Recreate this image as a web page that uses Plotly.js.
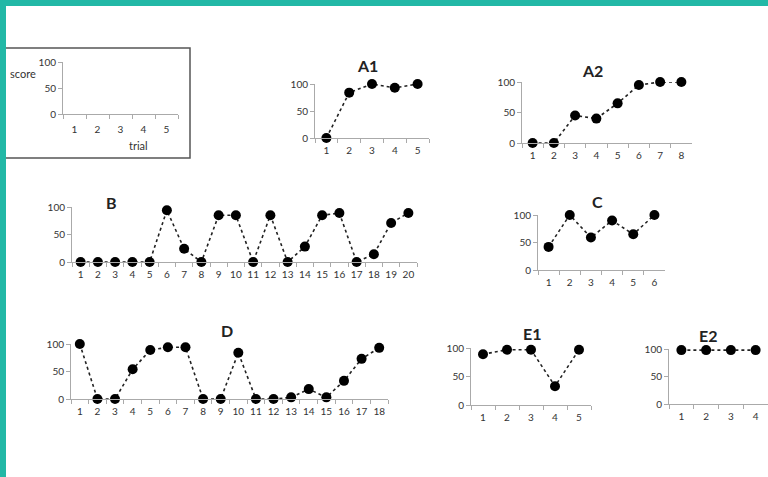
<!DOCTYPE html>
<html>
<head>
<meta charset="utf-8">
<script src="https://cdn.plot.ly/plotly-3.0.1.min.js"></script>
<style>html,body{margin:0;padding:0;background:#fff;}</style>
</head>
<body>
<div id="chart" style="width:768px;height:477px;"></div>
<script>
// scores per trial
var keyTrials = ['1', '2', '3', '4', '5'];
var a1Scores = [0, 84, 100, 93, 100];
var a2Scores = [0, 0, 45, 40, 65, 95, 100, 100];
var bScores = [0, 0, 0, 0, 0, 94, 24, 0, 85, 85, 0, 85, 0, 28, 85, 89, 0, 14, 71, 89];
var cScores = [42, 100, 59, 90, 65, 100];
var dScores = [100, 0, 0, 54, 89, 94, 94, 0, 0, 84, 0, 0, 3, 18, 3, 33, 73, 93];
var e1Scores = [89, 97, 97, 33, 97];
var e2Scores = [98, 98, 98, 98];
var yTicks = [0, 50, 100];

var W = 768, H = 477;
function fx(x) { return x / W; }
function fy(y) { return 1 - y / H; }
function trials(n) {
  var t = [];
  for (var i = 1; i <= n; i++) t.push(String(i));
  return t;
}

// pixel boxes [left, right, top, bottom] and title centres
var panels = [
  {name: '', scores: null, box: [63, 178, 62, 114]},
  {name: 'A1', scores: a1Scores, box: [315, 429, 84, 138], title: [367, 65]},
  {name: 'A2', scores: a2Scores, box: [522, 692, 82, 143], title: [592, 70]},
  {name: 'B', scores: bScores, box: [72, 417, 207, 262], title: [111, 202]},
  {name: 'C', scores: cScores, box: [538, 665, 215, 270], title: [597, 201]},
  {name: 'D', scores: dScores, box: [71, 388, 344, 399], title: [227, 330]},
  {name: 'E1', scores: e1Scores, box: [471, 591, 348, 405], title: [532, 333]},
  {name: 'E2', scores: e2Scores, box: [669, 768, 349, 404], title: [708, 335]}
];

var tickFont = {family: 'Lato, Open Sans, sans-serif', size: 10, color: '#333'};
var data = [];
var layout = {
  width: W, height: H,
  margin: {l: 0, r: 0, t: 0, b: 0},
  paper_bgcolor: '#fff', plot_bgcolor: '#fff',
  showlegend: false,
  annotations: [],
  shapes: []
};

panels.forEach(function (p, i) {
  var k = i === 0 ? '' : String(i + 1);
  var xs = p.scores ? trials(p.scores.length) : keyTrials;
  var ys = p.scores ? p.scores : xs.map(function () { return null; });
  data.push({
    x: xs, y: ys,
    xaxis: 'x' + k, yaxis: 'y' + k,
    type: 'scatter', mode: 'lines+markers',
    line: {color: '#222', width: 1.6, dash: 'dot'},
    marker: {color: '#000', size: 10},
    cliponaxis: false,
    hoverinfo: 'skip'
  });
  layout['xaxis' + k] = {
    type: 'category',
    domain: [fx(p.box[0]), fx(p.box[1])],
    anchor: 'y' + k,
    range: [-0.5, xs.length - 0.5],
    tickson: 'boundaries',
    tickangle: 0,
    ticklabelstandoff: i === 0 ? 6 : 3,
    ticks: 'outside', ticklen: 4, tickcolor: '#aaa',
    showline: true, linecolor: '#aaa', linewidth: 1,
    showgrid: false, zeroline: false,
    tickfont: tickFont, fixedrange: true
  };
  layout['yaxis' + k] = {
    domain: [fy(p.box[3]), fy(p.box[2])],
    anchor: 'x' + k,
    range: [0, 100],
    tickvals: yTicks,
    ticks: 'outside', ticklen: 4, tickcolor: '#aaa',
    showline: true, linecolor: '#aaa', linewidth: 1,
    showgrid: false, zeroline: false,
    tickfont: tickFont, fixedrange: true
  };
  if (p.title) {
    layout.annotations.push({
      text: '<b>' + p.name + '</b>',
      xref: 'paper', yref: 'paper',
      x: fx(p.title[0]), y: fy(p.title[1]),
      xanchor: 'center', yanchor: 'middle',
      showarrow: false,
      font: {family: 'Lato, Open Sans, sans-serif', size: 16, color: '#222'}
    });
  }
});

// key panel labels
layout.annotations.push({
  text: 'score', xref: 'paper', yref: 'paper',
  x: fx(23), y: fy(73), xanchor: 'center', yanchor: 'middle',
  showarrow: false, font: {family: 'Lato, sans-serif', size: 11, color: '#333'}
});
layout.annotations.push({
  text: 'trial', xref: 'paper', yref: 'paper',
  x: fx(138), y: fy(145), xanchor: 'center', yanchor: 'middle',
  showarrow: false, font: {family: 'Lato, sans-serif', size: 11, color: '#333'}
});

// key box and teal page frame
layout.shapes.push({
  type: 'rect', xref: 'paper', yref: 'paper',
  x0: fx(5), x1: fx(190), y0: fy(158), y1: fy(48),
  line: {color: '#555', width: 1.5}, fillcolor: 'rgba(0,0,0,0)'
});
layout.shapes.push({
  type: 'rect', xref: 'paper', yref: 'paper', layer: 'above',
  x0: 0, x1: 1, y0: fy(6), y1: 1,
  line: {width: 0}, fillcolor: '#22b8a6'
});
layout.shapes.push({
  type: 'rect', xref: 'paper', yref: 'paper', layer: 'above',
  x0: 0, x1: fx(6), y0: 0, y1: 1,
  line: {width: 0}, fillcolor: '#22b8a6'
});

Plotly.newPlot('chart', data, layout, {displayModeBar: false, staticPlot: true});
</script>
</body>
</html>
